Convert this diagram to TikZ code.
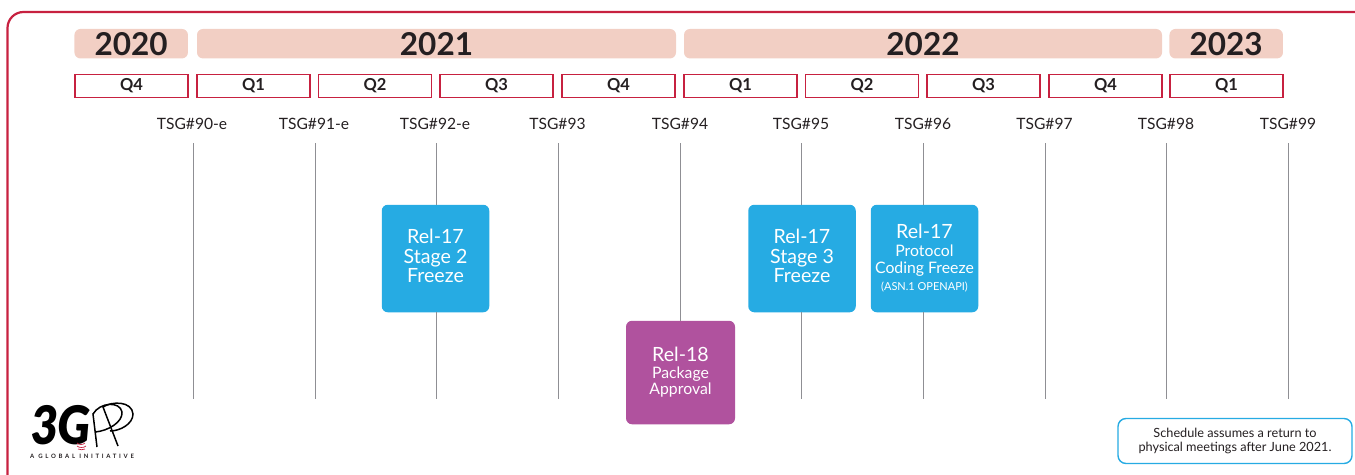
\documentclass[tikz,border=0pt]{standalone}
\usepackage{fontspec}
\setmainfont{Lato}
\newfontfamily\logofont[FakeSlant=0.1]{Lato Black}
\usepackage{tikz}
\usetikzlibrary{positioning}

\newcommand{\reltitle}{\fontsize{19.6}{20}\selectfont}
\newcommand{\relsub}{\fontsize{15.8}{17}\selectfont}

\tikzset{
    year_bar/.style={fill=color_peach,rounded corners=6,minimum height=29.5,inner sep=0,text=color_text,font=\fontsize{31.5}{34}\selectfont\bfseries},
    quarter_box/.style={draw=color_red,line width=1.2,fill=white,minimum width=113,minimum height=23,inner sep=0,text=color_text,font=\fontsize{16.5}{18}\selectfont\bfseries},
    tsg_text/.style={inner sep=0,text=color_text,font=\fontsize{15.6}{16}\selectfont},
    tsg_line/.style={draw=color_line,line width=1},
    rel_box/.style={rounded corners=6,minimum width=107.5,minimum height=107.5,inner sep=0,text=white,align=center},
}

\begin{document}
\begin{tikzpicture}[x=1pt,y=-1pt]
    \definecolor{color_red}{rgb}{0.78, 0.13, 0.25}
    \definecolor{color_peach}{rgb}{0.95, 0.81, 0.77}
    \definecolor{color_text}{rgb}{0.14, 0.12, 0.13}
    \definecolor{color_line}{rgb}{0.56, 0.56, 0.58}
    \definecolor{color_blue}{rgb}{0.15, 0.67, 0.89}
    \definecolor{color_purple}{rgb}{0.69, 0.32, 0.62}
    \useasboundingbox (0,0) rectangle (1355,474);
    \clip (0,0) rectangle (1355,474);

    \draw[color_red,line width=2.2,rounded corners=16] (7.5,490) rectangle (1400,12);

    \node[year_bar,minimum width=113.5] (year_2020) at (131.2,43.7) {2020};
    \node[year_bar,minimum width=479] (year_2021) at (436.5,43.7) {2021};
    \node[year_bar,minimum width=478] (year_2022) at (923,43.7) {2022};
    \node[year_bar,minimum width=113.5] (year_2023) at (1226.2,43.7) {2023};

    \node[quarter_box] (quarter_0) at (131.5,86) {Q4};
    \node[quarter_box] (quarter_1) at (253.5,86) {Q1};
    \node[quarter_box] (quarter_2) at (375,86) {Q2};
    \node[quarter_box] (quarter_3) at (496.5,86) {Q3};
    \node[quarter_box] (quarter_4) at (618.5,86) {Q4};
    \node[quarter_box] (quarter_5) at (740.5,86) {Q1};
    \node[quarter_box] (quarter_6) at (862,86) {Q2};
    \node[quarter_box] (quarter_7) at (983.5,86) {Q3};
    \node[quarter_box] (quarter_8) at (1105.5,86) {Q4};
    \node[quarter_box] (quarter_9) at (1226.5,86) {Q1};

    \node[tsg_text] (tsg_90) at (192,124) {TSG\#90-e};
    \node[tsg_text] (tsg_91) at (314,124) {TSG\#91-e};
    \node[tsg_text] (tsg_92) at (435,124) {TSG\#92-e};
    \node[tsg_text] (tsg_93) at (557.5,124) {TSG\#93};
    \node[tsg_text] (tsg_94) at (680,124) {TSG\#94};
    \node[tsg_text] (tsg_95) at (801,124) {TSG\#95};
    \node[tsg_text] (tsg_96) at (923,124) {TSG\#96};
    \node[tsg_text] (tsg_97) at (1044.5,124) {TSG\#97};
    \node[tsg_text] (tsg_98) at (1166,124) {TSG\#98};
    \node[tsg_text] (tsg_99) at (1288,124) {TSG\#99};

    % boxes on the lines
    \node[rel_box,fill=color_blue,font=\reltitle] (rel17_stage2) at (435.5,258.5) {\reltitle Rel-17\\[-0.5pt]\reltitle Stage 2\\[-0.5pt]\reltitle Freeze\\[-15pt]};
    \node[rel_box,fill=color_blue,font=\reltitle] (rel17_stage3) at (802,258.5) {\reltitle Rel-17\\[-0.5pt]\reltitle Stage 3\\[-0.5pt]\reltitle Freeze\\[-15pt]};
    \node[rel_box,fill=color_blue,font=\reltitle] (rel17_protocol) at (924.5,258.5) {\reltitle Rel-17\\[-2pt]\relsub Protocol\\[-3pt]\relsub Coding Freeze\\[-3pt]\fontsize{11}{12}\selectfont (ASN.1 OPENAPI)\\[-18pt]};
    \node[rel_box,fill=color_purple,font=\reltitle,minimum width=109,minimum height=103.5] (rel18_package) at (680.5,372.5) {\reltitle Rel-18\\[-3pt]\relsub Package\\[-3.5pt]\relsub Approval\\[-17pt]};

    \coordinate (bottom_90) at (193,399);
    \coordinate (bottom_91) at (315,399);
    \coordinate (bottom_92) at (436,399);
    \coordinate (bottom_93) at (558,399);
    \coordinate (bottom_95) at (801,399);
    \coordinate (bottom_96) at (923,399);
    \coordinate (bottom_97) at (1045,399);
    \coordinate (bottom_98) at (1166,399);
    \coordinate (bottom_99) at (1288,399);
    \coordinate (top_90) at (193,143);
    \coordinate (top_91) at (315,143);
    \coordinate (top_92) at (436,143);
    \coordinate (top_93) at (558,143);
    \coordinate (top_94) at (680,143);
    \coordinate (top_95) at (801,143);
    \coordinate (top_96) at (923,143);
    \coordinate (top_97) at (1045,143);
    \coordinate (top_98) at (1166,143);
    \coordinate (top_99) at (1288,143);

    \draw[tsg_line] (top_90) -- (bottom_90);
    \draw[tsg_line] (top_91) -- (bottom_91);
    \draw[tsg_line] (top_92) -- (top_92 |- rel17_stage2.north);
    \draw[tsg_line] (top_92 |- rel17_stage2.south) -- (bottom_92);
    \draw[tsg_line] (top_93) -- (bottom_93);
    \draw[tsg_line] (top_94) -- (top_94 |- rel18_package.north);
    \draw[tsg_line] (top_95) -- (top_95 |- rel17_stage3.north);
    \draw[tsg_line] (top_95 |- rel17_stage3.south) -- (bottom_95);
    \draw[tsg_line] (top_96) -- (top_96 |- rel17_protocol.north);
    \draw[tsg_line] (top_96 |- rel17_protocol.south) -- (bottom_96);
    \draw[tsg_line] (top_97) -- (bottom_97);
    \draw[tsg_line] (top_98) -- (bottom_98);
    \draw[tsg_line] (top_99) -- (bottom_99);

    % logo
    \node[inner sep=0,text=black,font=\fontsize{45}{45}\selectfont\logofont] (logo_3g) at (60,425) {\scalebox{1}[1.18]{3G}};
    \draw[black,line width=1.5] (97,447) -- (93,414) .. controls (100,402) and (120,401) .. (122,412) .. controls (123,422) and (108,431) .. (95,432);
    \draw[black,line width=1.5] (118,446) -- (103,407) .. controls (112,401) and (132,401) .. (133,414) .. controls (133,424) and (120,431) .. (110,431);
    \draw[color_red,line width=0.7] (77,443) .. controls (79,445) and (83,445) .. (85,443);
    \draw[color_red,line width=0.7] (77,446) .. controls (79,448) and (84,448) .. (86,446);
    \draw[color_red,line width=0.7] (78,449) .. controls (80,450) and (83,450) .. (85,449);
    \node[inner sep=0,text=color_text,font=\fontsize{6}{7}\selectfont\bfseries\addfontfeature{LetterSpace=45}] (logo_text) at (82,456) {A GLOBAL INITIATIVE};

    % note
    \node[draw=color_blue,line width=1.4,fill=white,rounded corners=8,minimum width=234,minimum height=45,inner sep=0,align=center,text=color_text,font=\fontsize{12.7}{14}\selectfont] (note_box) at (1235,441) {\fontsize{12.7}{14}\selectfont Schedule assumes a return to\\\fontsize{12.7}{14}\selectfont physical meetings after June 2021.};
\end{tikzpicture}
\end{document}
